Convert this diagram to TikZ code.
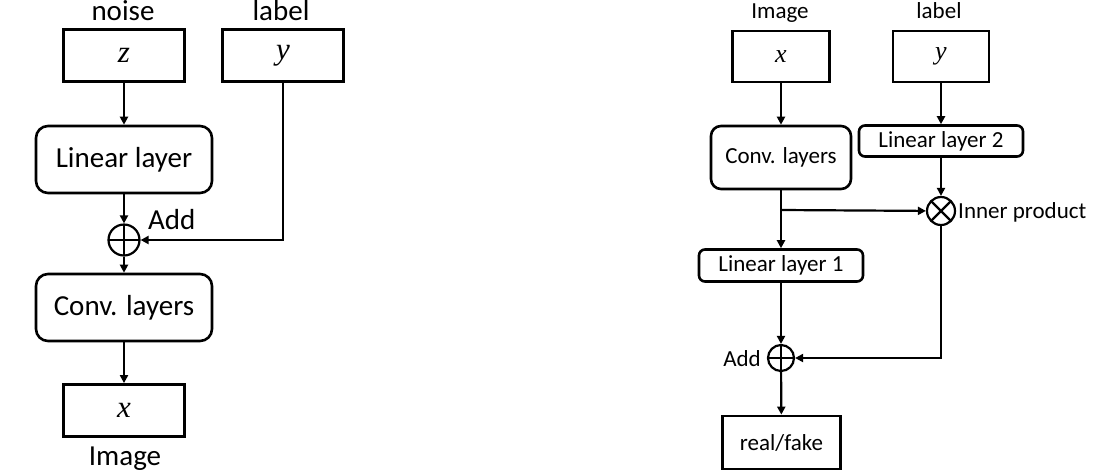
\documentclass[tikz,border=0pt]{standalone}
\usepackage{fontspec}
\setmainfont{Carlito}
\newfontfamily\varfont{Liberation Serif}
\newcommand{\vv}[1]{{\varfont\itshape #1}}
\usetikzlibrary{arrows.meta}
\tikzset{
  sq/.style={draw, line width=2.8pt, inner sep=0pt, minimum width=#1},
  rbox/.style={draw, line width=2.6pt, inner sep=0pt, rounded corners=#1},
  arr/.style={line width=2.2pt, -{Triangle[length=8pt,width=8pt]}},
  oplusn/.style={circle, draw, line width=2.2pt, inner sep=0pt, minimum size=#1,
    path picture={\draw[line width=2.2pt] (path picture bounding box.north) -- (path picture bounding box.south)
      (path picture bounding box.west) -- (path picture bounding box.east);}},
  otimesn/.style={circle, draw, line width=2.2pt, inner sep=0pt, minimum size=#1,
    path picture={\draw[line width=2.2pt] (path picture bounding box.north west) -- (path picture bounding box.south east)
      (path picture bounding box.south west) -- (path picture bounding box.north east);}},
  big/.style={font=\fontsize{29}{34}\selectfont},
  small/.style={font=\fontsize{23}{28}\selectfont},
  lbl/.style={inner sep=0pt, anchor=base}
}
\begin{document}
\begin{tikzpicture}[x=1pt,y=-1pt]
\useasboundingbox (0,0) rectangle (1114,475);
% ---------------- left: generator ----------------
\begin{scope}[big]
\node[sq=121, minimum height=52] (z) at (124,55.5) {\fontsize{31}{34}\selectfont\vv{z}};
\node[sq=121, minimum height=52] (yl) at (283,55.5) {\fontsize{31}{34}\selectfont\vv{y}};
\node[lbl] (noise) at (123,20) {noise};
\node[lbl] (labl) at (281,20) {label};
\node[rbox=12pt, minimum width=176, minimum height=67] (lin) at (124,159.5) {Linear layer};
\node[oplusn=31] (add) at (124,240) {};
\node[lbl, anchor=base west] (addl) at (148,229) {Add};
\node[rbox=12pt, minimum width=176, minimum height=67] (conv) at (124,307.5) {Conv. layers};
\node[sq=121, minimum height=52] (xo) at (124,410.5) {\fontsize{31}{34}\selectfont\vv{x}};
\node[lbl] (imgl) at (125,465) {Image};
\end{scope}
\draw[arr] (z) -- (lin);
\draw[arr] (lin) -- (add);
\draw[arr] (yl.south) |- (add);
\draw[arr] (add) -- (conv);
\draw[arr] (conv) -- (xo);
% ---------------- right: discriminator ----------------
\begin{scope}[small]
\node[sq=97, minimum height=51] (xi) at (781,56.5) {\fontsize{26}{30}\selectfont\vv{x}};
\node[sq=96, minimum height=51] (yr) at (941,56.5) {\fontsize{26}{30}\selectfont\vv{y}};
\node[lbl] (imgt) at (780,18) {Image};
\node[lbl] (labr) at (939,18) {label};
\node[rbox=10pt, minimum width=140, minimum height=63] (conv2) at (781,157.5) {Conv. layers};
\node[rbox=6pt, minimum width=164, minimum height=31] (lin2) at (941,141) {Linear layer 2};
\node[otimesn=28] (mul) at (941,211) {};
\node[lbl, anchor=base west] (ipl) at (958,218) {Inner product};
\node[rbox=6pt, minimum width=164, minimum height=32] (lin1) at (781,265.5) {Linear layer 1};
\node[oplusn=26] (add2) at (781,358) {};
\node[lbl, anchor=base east] (add2l) at (761,366) {Add};
\node[sq=118, minimum height=53] (rf) at (781.5,442.5) {real/fake};
\end{scope}
\coordinate (br) at (781,210);
\draw[arr] (xi) -- (conv2);
\draw[arr] (yr) -- (lin2);
\draw[arr] (lin2) -- (mul);
\draw[arr] (conv2) -- (lin1);
\draw[arr] (br) -- (mul);
\draw[arr] (lin1) -- (add2);
\draw[arr] (mul) |- (add2);
\draw[arr] (add2) -- (rf);
\end{tikzpicture}
\end{document}
